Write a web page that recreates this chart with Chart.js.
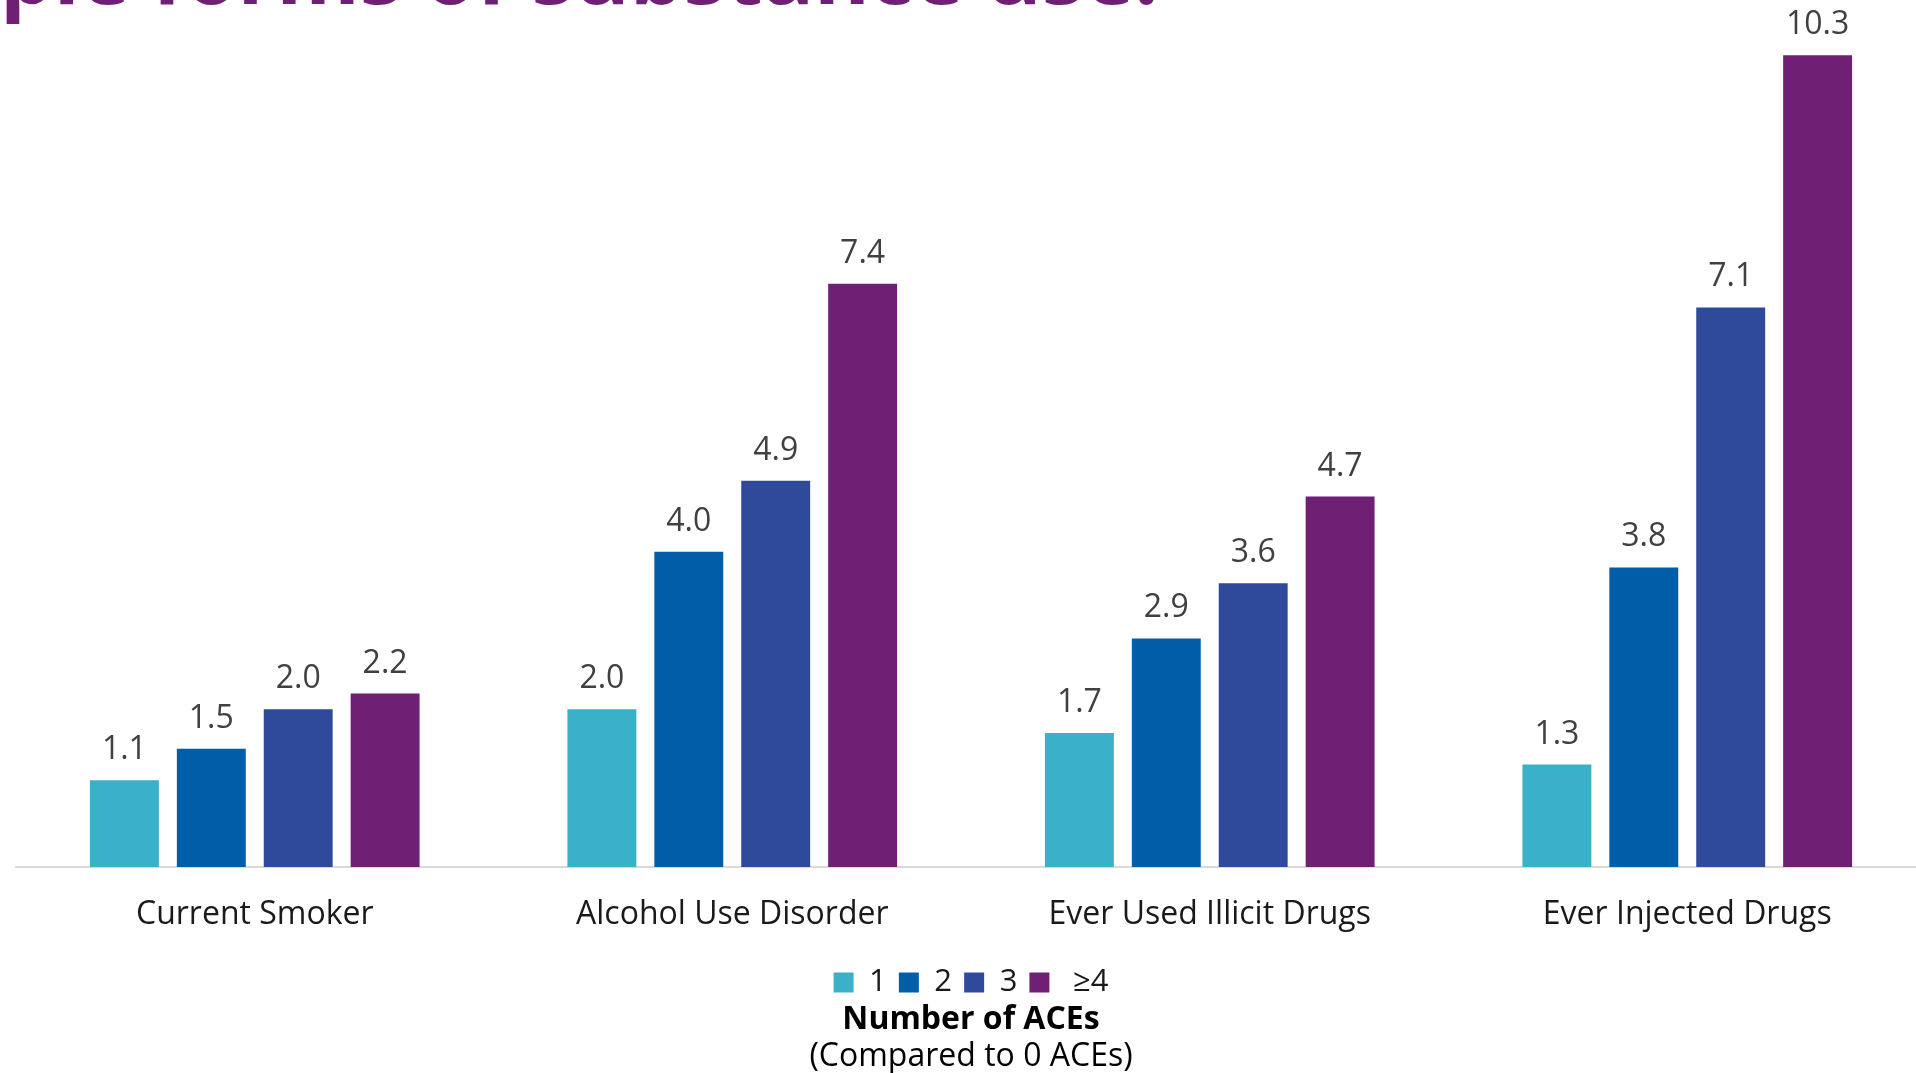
<!DOCTYPE html>
<html>
<head>
<meta charset="utf-8">
<script src="https://cdn.jsdelivr.net/npm/chart.js@4"></script>
<style>
  html, body { margin: 0; padding: 0; background: #fff; overflow: hidden; width: 1916px; height: 1073px; }
  #headline {
    position: absolute; left: 0; top: -71px; margin: 0;
    font: bold 85px 'Open Sans', sans-serif; line-height: 1; color: #6f1f74; white-space: nowrap;
  }
  #chart { position: absolute; left: 0; top: 0; }
</style>
</head>
<body>
<h1 id="headline">ple forms of substance use.</h1>
<canvas id="chart" width="1926" height="1073"></canvas>
<script>
var categories = ['Current Smoker', 'Alcohol Use Disorder', 'Ever Used Illicit Drugs', 'Ever Injected Drugs'];
var seriesNames = ['1 ', '2 ', '3 ', ' \u22654'];
var aces1 = [1.1, 2.0, 1.7, 1.3];
var aces2 = [1.5, 4.0, 2.9, 3.8];
var aces3 = [2.0, 4.9, 3.6, 7.1];
var aces4 = [2.2, 7.4, 4.7, 10.3];
var SERIES_COLORS = ['#3bb1c9', '#005ea8', '#2f4a9a', '#6f1f74'];

var FONT = "'Open Sans', sans-serif";

// draws the value above each bar
var valueLabels = {
  id: 'valueLabels',
  afterDatasetsDraw: function (chart) {
    var ctx = chart.ctx;
    ctx.save();
    ctx.font = '32px ' + FONT;
    ctx.fillStyle = '#404040';
    ctx.textAlign = 'center';
    ctx.textBaseline = 'alphabetic';
    chart.data.datasets.forEach(function (ds, i) {
      chart.getDatasetMeta(i).data.forEach(function (bar, j) {
        ctx.fillText(ds.data[j].toFixed(1), bar.x, bar.y - 21);
      });
    });
    ctx.restore();
  }
};

var seriesData = [aces1, aces2, aces3, aces4];
var datasets = seriesData.map(function (d, i) {
  return {
    label: seriesNames[i],
    data: d,
    backgroundColor: SERIES_COLORS[i],
    borderWidth: 0,
    barPercentage: 0.793,
    categoryPercentage: 0.728
  };
});

new Chart(document.getElementById('chart'), {
  type: 'bar',
  data: { labels: categories, datasets: datasets },
  plugins: [valueLabels],
  options: {
    responsive: false,
    animation: false,
    layout: { padding: { left: 16, right: 0, top: 0, bottom: 0 } },
    plugins: {
      tooltip: { enabled: false },
      legend: {
        position: 'bottom',
        labels: {
          color: '#1a1a1a',
          boxWidth: 20,
          boxHeight: 20,
          padding: 4,
          font: { family: FONT, size: 31 }
        }
      },
      title: {
        display: true,
        position: 'bottom',
        weight: 1200,
        text: 'Number of ACEs',
        color: '#000',
        padding: { top: 0, bottom: 0 },
        font: { family: FONT, size: 32, weight: 'bold', lineHeight: 0.75 }
      },
      subtitle: {
        display: true,
        position: 'bottom',
        weight: 2000,
        text: '(Compared to 0 ACEs)',
        color: '#000',
        padding: { top: 9, bottom: 0 },
        font: { family: FONT, size: 32, lineHeight: 1.0 }
      }
    },
    scales: {
      x: {
        grid: { display: false, drawTicks: false },
        border: { display: true, color: '#d9d9d9', width: 2 },
        ticks: { color: '#1a1a1a', padding: 36, font: { family: FONT, size: 32, lineHeight: 0.75 } }
      },
      y: {
        display: false,
        min: 0,
        max: 11
      }
    }
  }
});
</script>
</body>
</html>
